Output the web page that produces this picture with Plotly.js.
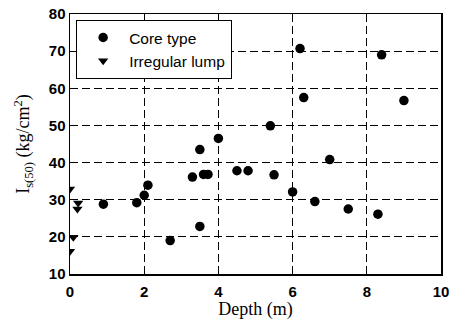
<!DOCTYPE html>
<html><head><meta charset="utf-8">
<script src="https://cdn.plot.ly/plotly-3.0.1.min.js"></script>
<style>html,body{margin:0;padding:0;background:#fff}#c{width:453px;height:326px}</style>
</head><body><div id="c"></div>
<script>
var coreDepth = [0.9, 1.8, 2.0, 2.1, 2.7, 3.3, 3.5, 3.5, 3.6, 3.72, 4.0, 4.5, 4.8, 5.4, 5.5, 6.0, 6.2, 6.3, 6.6, 7.0, 7.5, 8.3, 8.4, 9.0];
var coreIs   = [28.8, 29.2, 31.2, 33.9, 19.0, 36.1, 22.8, 43.5, 36.8, 36.8, 46.5, 37.8, 37.8, 49.9, 36.7, 32.1, 70.7, 57.5, 29.5, 40.8, 27.5, 26.1, 69.0, 56.7];
var lumpDepth = [0.0, 0.22, 0.2, 0.09, 0.0];
var lumpIs    = [32.9, 29.1, 27.5, 19.9, 16.1];
var xTicks = [0, 2, 4, 6, 8, 10];
var yTicks = [10, 20, 30, 40, 50, 60, 70, 80];

var traces = [
  {x: coreDepth, y: coreIs, mode: 'markers', type: 'scatter', name: 'Core type',
   marker: {symbol: 'circle', size: 9.5, color: '#000'}},
  {x: lumpDepth, y: lumpIs, mode: 'markers', type: 'scatter', name: 'Irregular lump',
   marker: {symbol: 'triangle-down', size: 9, color: '#000'}}
];
var axisCommon = {
  showline: true, linecolor: '#000', linewidth: 1.5, mirror: true,
  showgrid: true, gridcolor: '#000', gridwidth: 1, griddash: '8px,4px',
  zeroline: false, ticks: '',
  tickfont: {family: 'Liberation Sans, Arial, sans-serif', size: 15, color: '#000', weight: 'bold'}
};
var layout = {
  width: 453, height: 326,
  margin: {l: 70, r: 12, t: 14, b: 52},
  paper_bgcolor: '#fff', plot_bgcolor: '#fff',
  showlegend: true,
  legend: {x: 0.016, y: 0.978, xanchor: 'left', yanchor: 'top',
    bordercolor: '#000', borderwidth: 1.2, bgcolor: '#fff',
    font: {family: 'Liberation Sans, Arial, sans-serif', size: 15.5, color: '#000'},
    itemwidth: 42, tracegroupgap: 0},
  xaxis: Object.assign({}, axisCommon, {range: [0, 10], tickvals: xTicks, ticktext: xTicks.map(String),
    ticklabelstandoff: 3,
    title: {text: 'Depth (m)', standoff: 4, font: {family: 'Liberation Serif, Times New Roman, serif', size: 18, color: '#000'}}}),
  yaxis: Object.assign({}, axisCommon, {range: [10, 80], tickvals: yTicks, ticktext: yTicks.map(String),
    title: {text: 'I<sub>s(50)</sub> (kg/cm<sup>2</sup>)', standoff: 14, font: {family: 'Liberation Serif, Times New Roman, serif', size: 18, color: '#000'}}})
};
Plotly.newPlot('c', traces, layout, {displayModeBar: false, staticPlot: true});
</script></body></html>
